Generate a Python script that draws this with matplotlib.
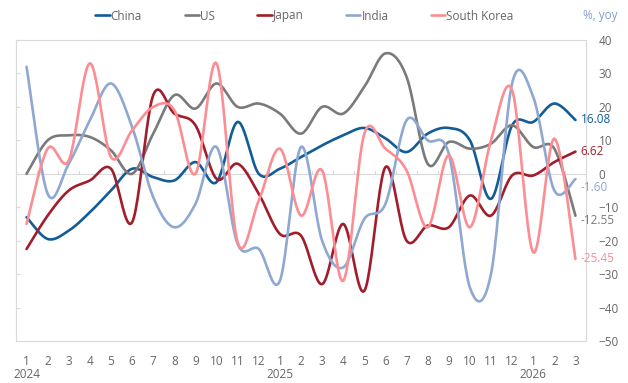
import numpy as np
import matplotlib.pyplot as plt
import matplotlib.transforms as mtransforms

plt.rcParams['font.family'] = ['Open Sans', 'DejaVu Sans']

months = [1, 2, 3, 4, 5, 6, 7, 8, 9, 10, 11, 12,
          1, 2, 3, 4, 5, 6, 7, 8, 9, 10, 11, 12,
          1, 2, 3]
years = {0: '2024', 12: '2025', 24: '2026'}

china = [-13, -19.5, -17, -11.5, -5, 1.5, -1, -2, 3.5, -2.5, 15.5, 0,
         1.5, 5, 8.5, 11.5, 13.7, 10.6, 6.5, 12, 13.7, 10, -7.5, 14.5,
         15.5, 21, 16.08]
us = [0, 10, 11.5, 11, 7, 0, 12, 23.5, 19.5, 27, 20, 21,
      18, 12, 20, 18, 26, 36, 29, 3, 9.5, 7.5, 9, 14.5,
      8, 7.5, -12.55]
japan = [-22.5, -12.5, -5, -2, 1.5, -14.5, 23.5, 18, 14.5, -1.5, 3, -6,
         -18, -18.5, -33, -15, -35, 2, -20, -15.5, -16, -6.5, -12.5, -0.5,
         -0.5, 3.5, 6.62]
india = [32, -6, 3, 16, 27, 14, -7, -16, -9, 8, -21, -22.5,
         -32, 8, -20, -28, -13.5, -9, 16, 10, 6, -34, -30, 27,
         23, -5, -1.60]
korea = [-15, 7.5, 4, 33, 5, 13, 20, 19, 0, 33, -20.5, -8,
         7.5, -12.5, 1, -32, 12, 7.5, 1, -16, 5.5, -16, 10, 25,
         -23.5, 10.5, -25.45]

# name, values, colour, end-label nudge (px, downward)
series = [
    ('China', china, '#125c98', 0),
    ('US', us, '#7a7a7a', 5),
    ('Japan', japan, '#a11d2b', 0),
    ('India', india, '#8ea8d2', 8),
    ('South Korea', korea, '#fb8d93', 0),
]


def smooth(y, n=24):
    # bezier smoothing between consecutive points, like a spreadsheet "smoothed line"
    y = np.asarray(y, dtype=float)
    x = np.arange(len(y), dtype=float)
    px = np.concatenate([[x[0]], x, [x[-1]]])
    py = np.concatenate([[y[0]], y, [y[-1]]])
    t = np.linspace(0, 1, n)
    xs, ys = [], []
    for i in range(len(y) - 1):
        p0x, p1x, p2x, p3x = px[i], px[i + 1], px[i + 2], px[i + 3]
        p0y, p1y, p2y, p3y = py[i], py[i + 1], py[i + 2], py[i + 3]
        c1x, c1y = p1x + (p2x - p0x) / 6, p1y + (p2y - p0y) / 6
        c2x, c2y = p2x - (p3x - p1x) / 6, p2y - (p3y - p1y) / 6
        bx = (1 - t) ** 3 * p1x + 3 * (1 - t) ** 2 * t * c1x + 3 * (1 - t) * t ** 2 * c2x + t ** 3 * p2x
        by = (1 - t) ** 3 * p1y + 3 * (1 - t) ** 2 * t * c1y + 3 * (1 - t) * t ** 2 * c2y + t ** 3 * p2y
        xs.append(bx)
        ys.append(by)
    return np.concatenate(xs), np.concatenate(ys)


fig = plt.figure(figsize=(6.28, 3.83), dpi=100)
ax = fig.add_axes([16 / 628, 1 - 341 / 383, 570 / 628, 301 / 383])

grey = '#666666'
for s in ax.spines.values():
    s.set_color('#d9d9d9')
    s.set_linewidth(0.8)

ax.axhline(0, color='#d9d9d9', lw=0.8, zorder=1)
for b in np.arange(0.5, len(months) - 1, 1):
    ax.plot([b, b], [0, 0.9], color='#d9d9d9', lw=0.8, zorder=1)

for name, vals, color, dy in series:
    sx, sy = smooth(vals)
    ax.plot(sx, sy, color=color, lw=1.9, label=name, solid_capstyle='round', zorder=3)
    ax.annotate(f'{vals[-1]:.2f}', xy=(len(vals) - 1, vals[-1]), xytext=(5, -dy),
                textcoords='offset pixels', ha='left', va='center',
                color=color, fontsize=8.5, zorder=4)

ax.set_xlim(-0.5, len(months) - 0.5)
ax.set_ylim(-50, 40)
ax.set_yticks(np.arange(-50, 41, 10))
ax.set_xticks(range(len(months)))
ax.set_xticklabels([str(m) for m in months])
ax.tick_params(axis='x', length=0, pad=10, labelsize=8.5, labelcolor=grey)
ax.tick_params(axis='y', left=True, right=False, labelleft=False, labelright=True,
               direction='in', length=3, color='#d9d9d9', pad=9,
               labelsize=8.5, labelcolor=grey)

trans = mtransforms.blended_transform_factory(ax.transData, fig.transFigure)
for i, yr in years.items():
    ax.text(i, 1 - 374 / 383, yr, transform=trans, ha='center', va='center',
            fontsize=8.5, color=grey)

fig.text(600 / 628, 1 - 15 / 383, '%, yoy', ha='center', va='center',
         fontsize=8.5, color='#7f9fcf')

fig.legend(loc='center', bbox_to_anchor=(0.485, 1 - 16 / 383), ncol=5, frameon=False,
           handlelength=1.2, handletextpad=0.1, columnspacing=3.6,
           fontsize=8.5, labelcolor=grey)

fig.savefig('out.png', dpi=100)
